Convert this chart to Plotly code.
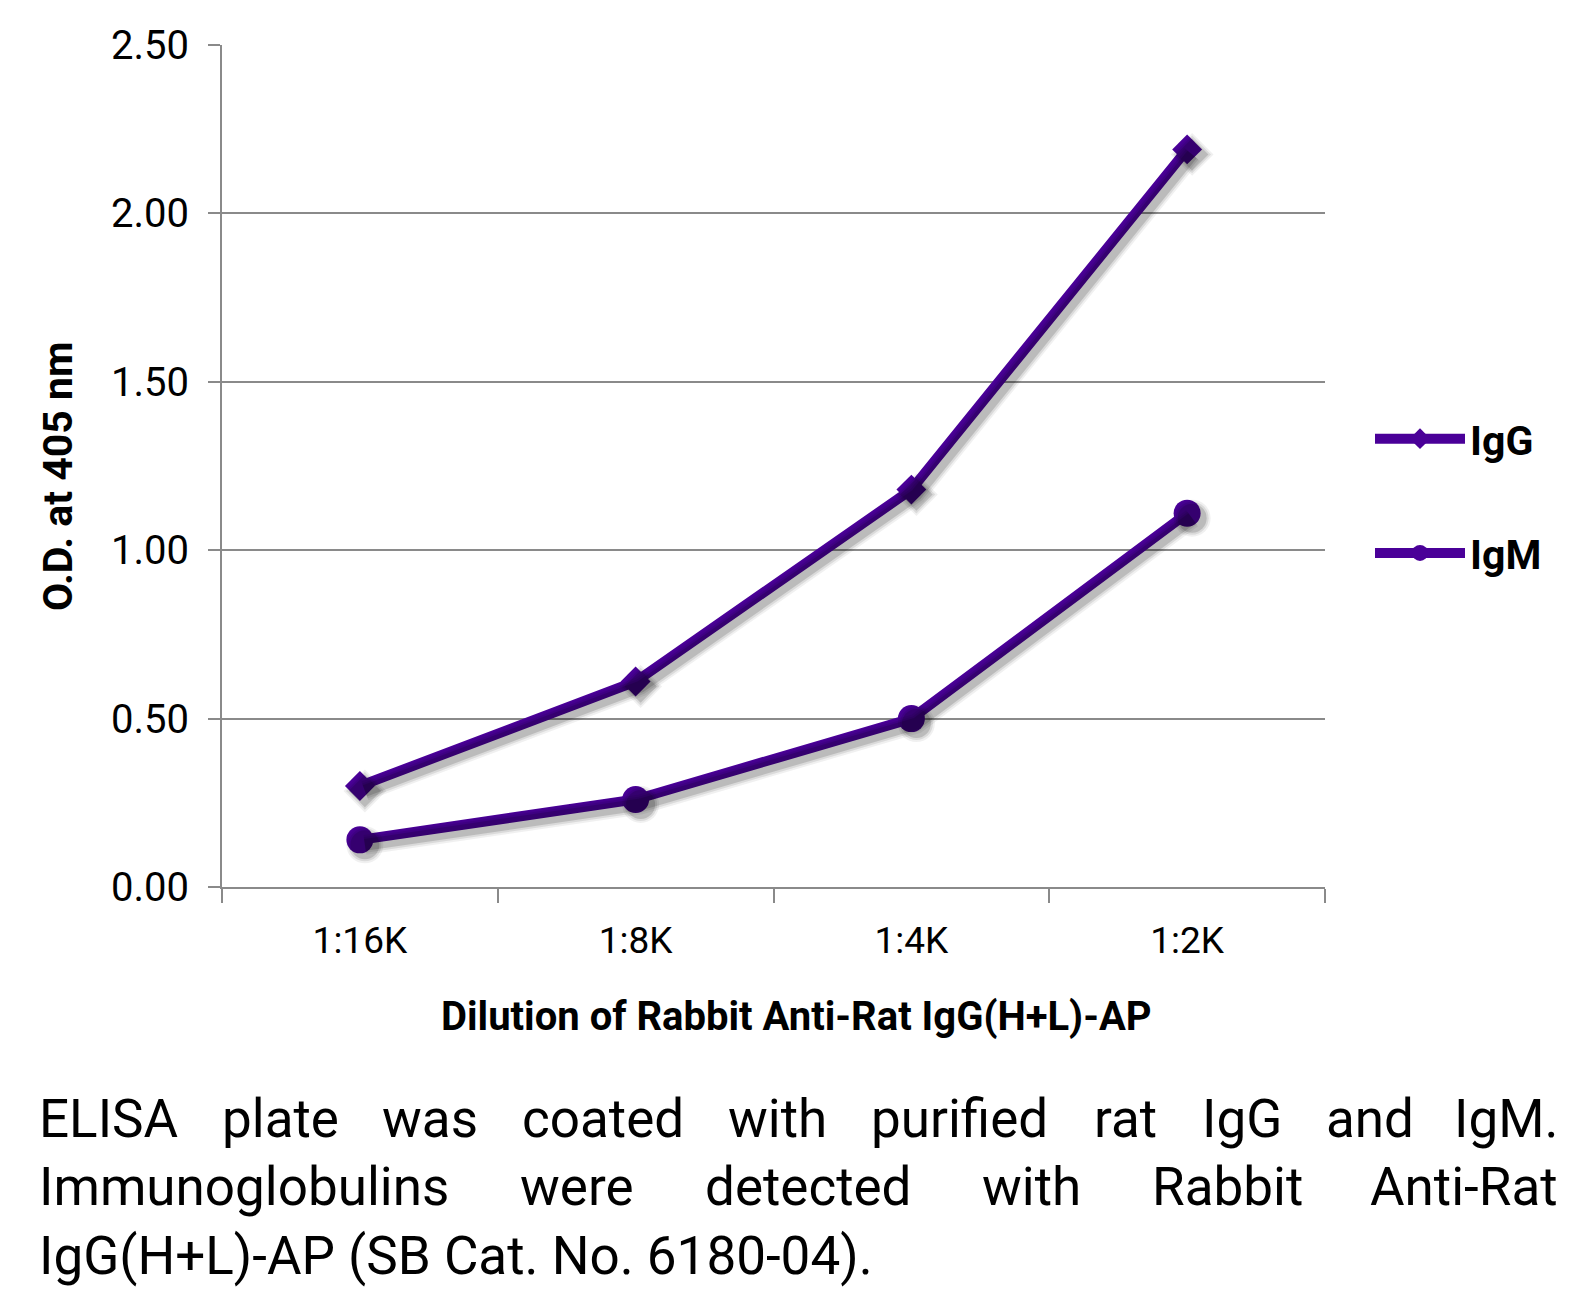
import plotly.graph_objects as go

dilutions = ['1:16K', '1:8K', '1:4K', '1:2K']
igg_od = [0.30, 0.61, 1.18, 2.19]
igm_od = [0.14, 0.26, 0.50, 1.11]
y_ticks = [0.0, 0.5, 1.0, 1.5, 2.0, 2.5]

caption_lines = [
    'ELISA plate was coated with purified rat IgG and IgM.',
    'Immunoglobulins were detected with Rabbit Anti-Rat',
    'IgG(H+L)-AP (SB Cat. No. 6180-04).',
]

PURPLE = '#4a0098'
GRID = '#8a8a8a'
FONT = 'Roboto'

# page body has an 8px margin, so page pixels are shifted by OFF
OFF = 8
W, H = 1590 - OFF, 1306 - OFF
PLOT_L, PLOT_R, PLOT_T, PLOT_B = 222, 1325, 45, 887
X_RANGE = [-0.5, len(dilutions) - 0.5]
Y_RANGE = [0, 2.5]


def px_x(px):
    return (px - PLOT_L) / (PLOT_R - PLOT_L)


def px_y(py):
    return (PLOT_B - py) / (PLOT_B - PLOT_T)


# rough Roboto advance widths (em) to justify the caption
CHAR_W = dict(zip('abcdefghijklmnopqrstuvwxyz',
                  [.544, .561, .523, .564, .530, .347, .561, .551, .243, .239, .507, .243, .876,
                   .552, .570, .561, .568, .338, .516, .327, .551, .484, .751, .496, .473, .496]))
CHAR_W.update(dict(zip('ABCDEFGHIJKLMNOPQRSTUVWXYZ',
                       [.652, .622, .651, .656, .568, .553, .681, .713, .272, .552, .627, .538, .873,
                        .713, .688, .631, .688, .616, .593, .597, .649, .636, .887, .627, .601, .599])))
CHAR_W.update({d: .561 for d in '0123456789'})
CHAR_W.update({'.': .263, ',': .196, '(': .342, ')': .348, '-': .276, '+': .567, ':': .242})


def text_w(s, size):
    return sum(CHAR_W.get(c, .55) for c in s) * size


# shadow drawn on hidden axes whose ranges are shifted a few pixels
SH_DX, SH_DY = 5, 5
x_unit = (PLOT_R - PLOT_L) / (X_RANGE[1] - X_RANGE[0])
y_unit = (PLOT_B - PLOT_T) / (Y_RANGE[1] - Y_RANGE[0])
x2_range = [X_RANGE[0] - SH_DX / x_unit, X_RANGE[1] - SH_DX / x_unit]
y2_range = [Y_RANGE[0] + SH_DY / y_unit, Y_RANGE[1] + SH_DY / y_unit]

fig = go.Figure()

series = [('IgG', igg_od, 'diamond', 23), ('IgM', igm_od, 'circle', 27)]

for name, vals, sym, msize in series:
    for extra, op in [(10, 0.06), (6, 0.09), (2, 0.14)]:
        fig.add_trace(go.Scatter(x=dilutions, y=vals, xaxis='x2', yaxis='y2',
                                 mode='lines+markers', showlegend=False, hoverinfo='skip',
                                 line=dict(color='rgba(0,0,0,%s)' % op, width=10 + extra),
                                 marker=dict(symbol=sym, size=msize + extra,
                                             color='rgba(0,0,0,%s)' % op)))

for name, vals, sym, msize in series:
    fig.add_trace(go.Scatter(x=dilutions, y=vals, name=name, legendgroup=name,
                             mode='lines+markers',
                             line=dict(color=PURPLE, width=10),
                             marker=dict(symbol=sym, size=msize, color=PURPLE)))

annotations = [
    dict(text='<b>O.D. at 405 nm</b>', x=px_x(58), y=px_y(476), textangle=-90,
         font=dict(size=41)),
    dict(text='<b>Dilution of Rabbit Anti-Rat IgG(H+L)-AP</b>', x=px_x(796), y=px_y(1016),
         font=dict(size=40)),
]

# caption, first two lines justified
CAP_SIZE = 53
CAP_L, CAP_R = 37, 1560
cap_y = [1119, 1187, 1256]
for i, line in enumerate(caption_lines):
    words = line.split(' ')
    if i < len(caption_lines) - 1:
        widths = [text_w(w, CAP_SIZE) for w in words]
        gap = (CAP_R - CAP_L - sum(widths)) / (len(words) - 1)
        xpos = CAP_L
        for j, w in enumerate(words):
            if j == len(words) - 1:
                annotations.append(dict(text=w, x=px_x(CAP_R), y=px_y(cap_y[i]), xanchor='right',
                                        font=dict(size=CAP_SIZE)))
            else:
                annotations.append(dict(text=w, x=px_x(xpos), y=px_y(cap_y[i]), xanchor='left',
                                        font=dict(size=CAP_SIZE)))
            xpos += widths[j] + gap
    else:
        annotations.append(dict(text=line, x=px_x(CAP_L), y=px_y(cap_y[i]), xanchor='left',
                                font=dict(size=CAP_SIZE)))

for a in annotations:
    a.update(xref='paper', yref='paper', showarrow=False, yanchor='middle')
    a.setdefault('xanchor', 'center')

fig.update_layout(
    width=W, height=H,
    margin=dict(l=PLOT_L - OFF, r=W - PLOT_R + OFF, t=PLOT_T - OFF, b=H - PLOT_B + OFF),
    paper_bgcolor='white', plot_bgcolor='white',
    font=dict(family=FONT, color='black'),
    xaxis=dict(type='category', range=X_RANGE, tickson='boundaries', ticks='outside',
               ticklen=14, tickwidth=2, tickcolor=GRID, showline=True, linecolor=GRID,
               linewidth=2, showgrid=False, tickfont=dict(size=37), ticklabelstandoff=20),
    yaxis=dict(range=Y_RANGE, tickvals=y_ticks, tickformat='.2f', ticks='outside',
               ticklen=12, tickwidth=2, tickcolor=GRID, showline=True, linecolor=GRID,
               linewidth=2, showgrid=True, gridcolor=GRID, gridwidth=2, zeroline=False,
               tickfont=dict(size=40), ticklabelstandoff=11),
    xaxis2=dict(type='category', range=x2_range, overlaying='x', visible=False),
    yaxis2=dict(range=y2_range, overlaying='y', visible=False),
    legend=dict(x=px_x(1370), y=px_y(496), xanchor='left', yanchor='middle',
                font=dict(size=41, family=FONT, weight='bold'), itemwidth=90, tracegroupgap=58,
                bgcolor='rgba(0,0,0,0)'),
    annotations=annotations,
)

fig.write_html('out.html')
